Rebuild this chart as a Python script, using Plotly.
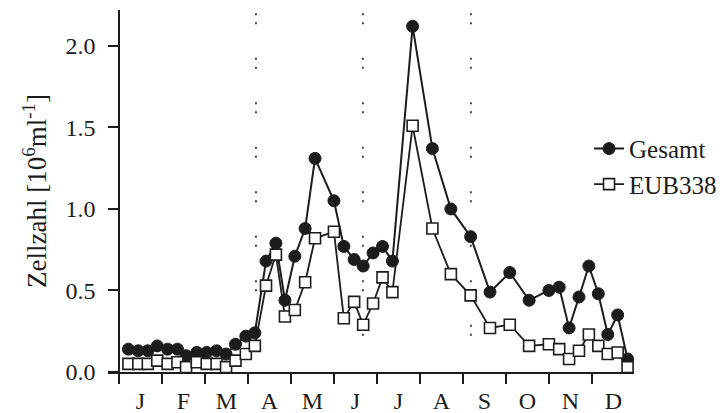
import plotly.graph_objects as go

# ---- data (x in months from 1 Jan; 0..12) ----
sample_month = [0.22, 0.45, 0.67, 0.89, 1.13, 1.36, 1.56, 1.81, 2.04, 2.27, 2.49, 2.71, 2.95,
                3.16, 3.42, 3.65, 3.86, 4.09, 4.33, 4.56, 5.00, 5.23, 5.47, 5.68, 5.91,
                6.13, 6.36, 6.83, 7.29, 7.72, 8.18, 8.63, 9.09, 9.54, 10.00, 10.24, 10.47,
                10.70, 10.93, 11.15, 11.37, 11.60, 11.83]
gesamt = [0.14, 0.13, 0.13, 0.16, 0.14, 0.14, 0.10, 0.12, 0.12, 0.13, 0.11, 0.17, 0.22,
          0.24, 0.68, 0.79, 0.44, 0.71, 0.88, 1.31, 1.05, 0.77, 0.69, 0.65, 0.73,
          0.77, 0.68, 2.12, 1.37, 1.00, 0.83, 0.49, 0.61, 0.44, 0.50, 0.52, 0.27,
          0.46, 0.65, 0.48, 0.23, 0.35, 0.08]
eub338 = [0.05, 0.05, 0.05, 0.07, 0.05, 0.06, 0.03, 0.06, 0.05, 0.05, 0.03, 0.07, 0.11,
          0.16, 0.53, 0.72, 0.34, 0.38, 0.55, 0.82, 0.86, 0.33, 0.43, 0.29, 0.42,
          0.58, 0.49, 1.51, 0.88, 0.60, 0.47, 0.27, 0.29, 0.16, 0.17, 0.14, 0.08,
          0.13, 0.23, 0.16, 0.11, 0.12, 0.03]
month_labels = ["J", "F", "M", "A", "M", "J", "J", "A", "S", "O", "N", "D"]
month_bounds = list(range(0, 12))
season_breaks = [3.186, 5.674, 8.186]
y_ticks = [0.0, 0.5, 1.0, 1.5, 2.0]

FONT = "Liberation Serif, Times New Roman, serif"
INK = "#1c1c1c"

fig = go.Figure()

# dotted season separators
sx, sy = [], []
for b in season_breaks:
    sx += [b, b, None]
    sy += [2.2, 0.04, None]
fig.add_trace(go.Scatter(x=sx, y=sy, mode="lines", showlegend=False, hoverinfo="skip",
                         line=dict(color="#444", width=2, dash="2px,7px,2px,33.5px")))

fig.add_trace(go.Scatter(
    x=sample_month, y=gesamt, name="Gesamt", mode="lines+markers",
    line=dict(color=INK, width=2),
    marker=dict(symbol="circle", size=12, color=INK, line=dict(color=INK, width=1))))
fig.add_trace(go.Scatter(
    x=sample_month, y=eub338, name="EUB338", mode="lines+markers",
    line=dict(color=INK, width=1.8),
    marker=dict(symbol="square", size=11, color="white", line=dict(color=INK, width=1.6))))

fig.update_layout(
    width=726, height=413,
    margin=dict(l=108, r=92, t=10, b=41, autoexpand=False),
    paper_bgcolor="white", plot_bgcolor="white",
    font=dict(family=FONT, color=INK, size=24),
    showlegend=True,
    legend=dict(x=0.9145, y=0.68, xanchor="left", yanchor="top",
                font=dict(family=FONT, size=25, color=INK),
                bgcolor="rgba(0,0,0,0)", tracegroupgap=0, itemwidth=30),
    xaxis=dict(range=[-0.256, 11.98], showgrid=False, zeroline=False, automargin=False,
               showline=True, linecolor=INK, linewidth=1.6,
               tickmode="array", tickvals=[i + 0.5 for i in range(12)],
               ticktext=month_labels, ticks="",
               tickfont=dict(family=FONT, size=24, color=INK),
               ticklabelstandoff=6,
               minor=dict(tickmode="array", tickvals=month_bounds, ticks="outside",
                          ticklen=10, tickwidth=1.6, tickcolor=INK, showgrid=False)),
    yaxis=dict(range=[0, 2.22], anchor="free", position=0.0209, automargin=False,
               showgrid=False, zeroline=False,
               showline=True, linecolor=INK, linewidth=1.6,
               tickmode="array", tickvals=y_ticks, ticktext=[f"{v:.1f}" for v in y_ticks],
               ticks="outside", ticklen=10, tickwidth=1.6, tickcolor=INK,
               tickfont=dict(family=FONT, size=24, color=INK),
               ticklabelstandoff=8,
               title=dict(text="Zellzahl [10<sup>6</sup>ml<sup>-1</sup>]",
                          font=dict(family=FONT, size=27, color=INK), standoff=10)),
)

fig.write_html(
    "out.html",
    config={"displayModeBar": False},
    post_script="document.body.style.margin='0px';document.body.style.overflow='hidden';",
)
